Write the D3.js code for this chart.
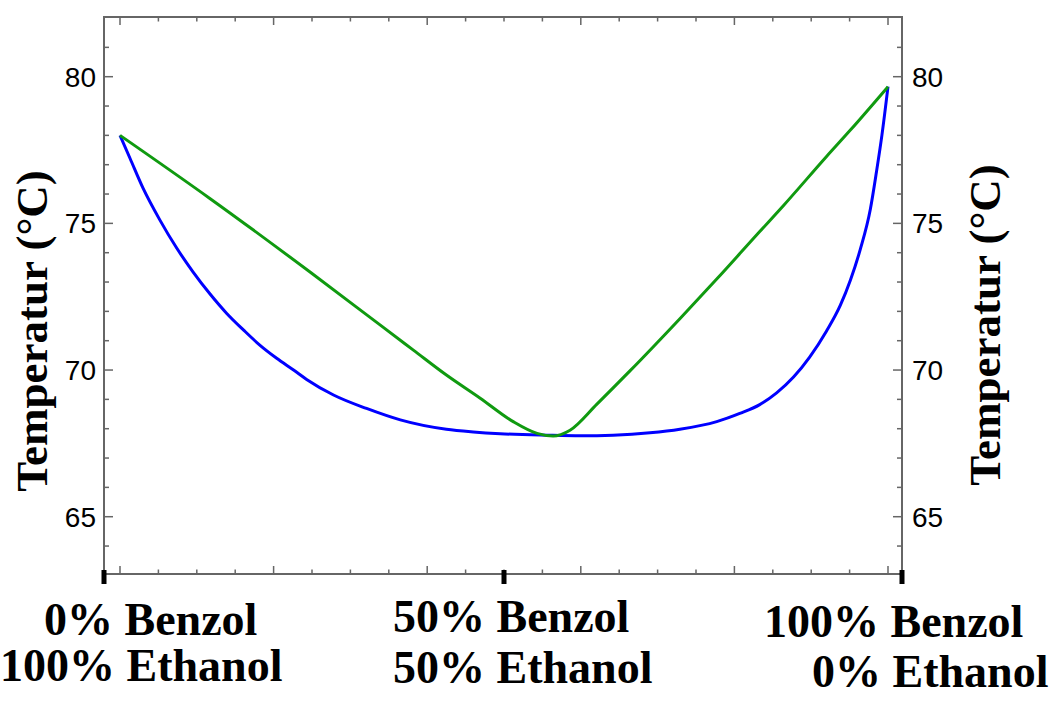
<!DOCTYPE html>
<html>
<head>
<meta charset="utf-8">
<script src="https://cdn.jsdelivr.net/npm/d3@7"></script>
<style>
  body { margin: 0; background: #fff; }
  svg { display: block; }
</style>
</head>
<body>
<div id="chart"></div>
<script>
// Siedediagramm Benzol / Ethanol (Azeotrop)
// Siedelinie (blau): x = Stoffmengenanteil Benzol in der Flüssigkeit
const liquidX = [0, 0.013, 0.030, 0.052, 0.074, 0.095, 0.117, 0.139, 0.161, 0.182, 0.204, 0.226, 0.243, 0.278, 0.321, 0.365, 0.425, 0.46, 0.495, 0.556, 0.6, 0.642, 0.69, 0.729, 0.777, 0.807, 0.833, 0.855, 0.877, 0.898, 0.920, 0.938, 0.951, 0.964, 0.977, 0.985, 0.992, 1];
const liquidT = [78.0, 77.22, 76.20, 75.11, 74.15, 73.35, 72.60, 71.93, 71.36, 70.85, 70.40, 70.00, 69.68, 69.15, 68.69, 68.30, 67.98, 67.89, 67.83, 67.78, 67.76, 67.78, 67.86, 67.98, 68.24, 68.52, 68.82, 69.22, 69.76, 70.44, 71.33, 72.21, 73.06, 74.12, 75.48, 76.76, 77.99, 79.66];

// Taulinie (grün): x = Stoffmengenanteil Benzol im Dampf
const vaporX = [0, 0.117, 0.247, 0.339, 0.382, 0.425, 0.469, 0.512, 0.543, 0.564, 0.586, 0.621, 0.664, 0.729, 0.777, 0.833, 0.864, 0.920, 0.951, 1];
const vaporT = [78.0, 75.85, 73.35, 71.53, 70.68, 69.83, 69.04, 68.24, 67.84, 67.75, 67.95, 68.84, 69.97, 71.75, 73.10, 74.72, 75.61, 77.28, 78.18, 79.66];

const yMajor = [65, 70, 75, 80];
const yMinor = [64, 66, 67, 68, 69, 71, 72, 73, 74, 76, 77, 78, 79, 81];
const xMajor = [0, 0.2, 0.4, 0.6, 0.8, 1];
const xMinor = [0.05, 0.1, 0.15, 0.25, 0.3, 0.35, 0.45, 0.5, 0.55, 0.65, 0.7, 0.75, 0.85, 0.9, 0.95];

const xLabels = [
  { lines: ["0% Benzol", "100% Ethanol"], dx: [44, 0], base: [635, 681] },
  { lines: ["50% Benzol", "50% Ethanol"], dx: [393, 393], base: [632, 683] },
  { lines: ["100% Benzol", "0% Ethanol"], dx: [764, 812], base: [637, 687] }
];
const yTitle = "Temperatur (°C)";

const width = 1057, height = 705;
const pLeft = 104, pRight = 902, pTop = 17, pBottom = 574;

const svg = d3.select("#chart").append("svg")
  .attr("width", width).attr("height", height);

// 0 -> 120px, 1 -> 888px
const x = d3.scaleLinear().domain([-16 / 768, 1 + 14 / 768]).range([pLeft, pRight]);
const y = d3.scaleLinear().domain([63.047, 82.035]).range([pBottom, pTop]);

const grey = "#666";

// Rahmen
svg.append("rect")
  .attr("x", pLeft).attr("y", pTop)
  .attr("width", pRight - pLeft).attr("height", pBottom - pTop)
  .attr("fill", "none").attr("stroke", grey).attr("stroke-width", 2);

const ticks = svg.append("g").attr("stroke", grey).attr("stroke-width", 1.5);

// x-Ticks unten und oben (nach innen)
function xTick(v, len) {
  ticks.append("line").attr("x1", x(v)).attr("x2", x(v)).attr("y1", pBottom).attr("y2", pBottom - len);
  ticks.append("line").attr("x1", x(v)).attr("x2", x(v)).attr("y1", pTop).attr("y2", pTop + len);
}
xMajor.forEach(v => xTick(v, 8));
xMinor.forEach(v => xTick(v, 4.5));

// y-Ticks links und rechts
function yTick(v, len) {
  ticks.append("line").attr("x1", pLeft).attr("x2", pLeft + len).attr("y1", y(v)).attr("y2", y(v));
  ticks.append("line").attr("x1", pRight).attr("x2", pRight - len).attr("y1", y(v)).attr("y2", y(v));
}
yMajor.forEach(v => yTick(v, 9));
yMinor.forEach(v => yTick(v, 5));

// y-Beschriftung
const tickFont = "'Liberation Sans', Arial, sans-serif";
svg.append("g").selectAll("text").data(yMajor).enter().append("text")
  .attr("x", pLeft - 8).attr("y", d => y(d)).attr("dy", "0.36em")
  .attr("text-anchor", "end").attr("font-family", tickFont).attr("font-size", 28)
  .text(d => d);
svg.append("g").selectAll("text").data(yMajor).enter().append("text")
  .attr("x", pRight + 10).attr("y", d => y(d)).attr("dy", "0.36em")
  .attr("text-anchor", "start").attr("font-family", tickFont).attr("font-size", 28)
  .text(d => d);

// dicke schwarze Markierungen
const blackTicks = [x.domain()[0], 0.5, x.domain()[1]];
svg.append("g").selectAll("rect").data(blackTicks).enter().append("rect")
  .attr("x", d => x(d) - 2.5).attr("y", pBottom - 4)
  .attr("width", 5).attr("height", 14)
  .attr("fill", "#000");

const serif = "'Liberation Serif', 'Times New Roman', serif";

// x-Beschriftung
xLabels.forEach(l => {
  l.lines.forEach((t, i) => {
    svg.append("text")
      .attr("x", l.dx[i]).attr("y", l.base[i])
      .attr("font-family", serif).attr("font-weight", "bold").attr("font-size", 46)
      .text(t);
  });
});

// Achsentitel
svg.append("text")
  .attr("transform", "translate(47,331) rotate(-90)")
  .attr("text-anchor", "middle")
  .attr("font-family", serif).attr("font-weight", "bold").attr("font-size", 45)
  .text(yTitle);
svg.append("text")
  .attr("transform", "translate(1000,325) rotate(-90)")
  .attr("text-anchor", "middle")
  .attr("font-family", serif).attr("font-weight", "bold").attr("font-size", 45)
  .text(yTitle);

// Kurven
const line = d3.line().curve(d3.curveMonotoneX);

svg.append("path")
  .attr("d", line(liquidX.map((d, i) => [x(d), y(liquidT[i])])))
  .attr("fill", "none").attr("stroke", "#0000ff").attr("stroke-width", 3);

svg.append("path")
  .attr("d", line(vaporX.map((d, i) => [x(d), y(vaporT[i])])))
  .attr("fill", "none").attr("stroke", "#109a10").attr("stroke-width", 3);
</script>
</body>
</html>
